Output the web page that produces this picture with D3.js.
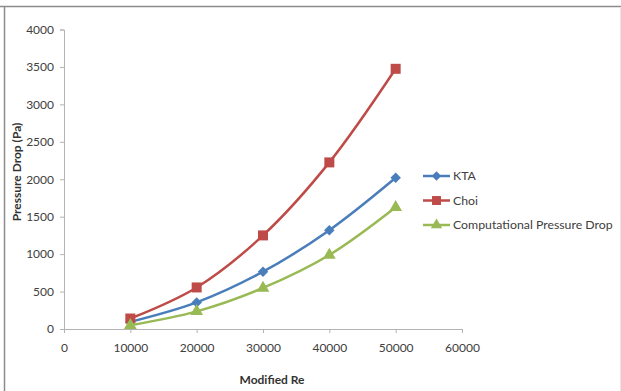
<!DOCTYPE html>
<html><head><meta charset="utf-8">
<script src="https://cdn.jsdelivr.net/npm/d3@7/dist/d3.min.js"></script>
<style>
html,body{margin:0;padding:0;background:#fff;}
svg{display:block;}
text{font-family:Lato,"Open Sans",sans-serif;}
</style></head>
<body>
<svg id="c" width="621" height="391"></svg>
<script>
const reValues = [10000, 20000, 30000, 40000, 50000];
const ktaValues = [95, 355, 765, 1320, 2020];
const choiValues = [140, 555, 1250, 2225, 3475];
const compValues = [50, 235, 548, 988, 1625];
const seriesNames = ["KTA", "Choi", "Computational Pressure Drop"];
const seriesColors = ["#4a7ebb", "#be4b48", "#98b954"];
const xTicks = [0, 10000, 20000, 30000, 40000, 50000, 60000];
const yTicks = [0, 500, 1000, 1500, 2000, 2500, 3000, 3500, 4000];

const squareDiamond = { draw(ctx, size) { const r = Math.sqrt(size / 2); ctx.moveTo(0, -r); ctx.lineTo(r, 0); ctx.lineTo(0, r); ctx.lineTo(-r, 0); ctx.closePath(); } };
const seriesSymbols = [squareDiamond, d3.symbolSquare, d3.symbolTriangle];

const svg = d3.select("#c");
// frame
svg.append("line").attr("x1",0).attr("x2",621).attr("y1",6.5).attr("y2",6.5).attr("stroke","#8c8c8c").attr("stroke-width",1.5);
svg.append("line").attr("x1",4.5).attr("x2",4.5).attr("y1",6).attr("y2",391).attr("stroke","#8c8c8c").attr("stroke-width",1.5);
svg.append("line").attr("x1",620.5).attr("x2",620.5).attr("y1",7).attr("y2",391).attr("stroke","#e6e6e6").attr("stroke-width",1);

const x = d3.scaleLinear().domain([0, 60000]).range([64, 462]);
const y = d3.scaleLinear().domain([0, 4000]).range([329, 29.5]);

const xAxis = svg.append("g").attr("transform", `translate(0,${y(0)})`)
  .call(d3.axisBottom(x).tickValues(xTicks).tickSize(4).tickPadding(10).tickFormat(d3.format("d")));
const yAxis = svg.append("g").attr("transform", `translate(${x(0)},0)`)
  .call(d3.axisLeft(y).tickValues(yTicks).tickSize(4).tickPadding(6).tickFormat(d3.format("d")));
[xAxis, yAxis].forEach(g => {
  g.select(".domain").attr("stroke", "#b3b3b3").attr("stroke-width", 1);
  g.selectAll(".tick line").attr("stroke", "#b3b3b3");
  g.selectAll(".tick text").attr("fill", "#404040").style("font-size", "12px").style("font-family", "Lato,'Open Sans',sans-serif");
});

svg.append("text").attr("x", 272).attr("y", 384).attr("text-anchor", "middle")
  .style("font-size", "12px").style("font-weight", "bold").attr("fill", "#333").text("Modified Re");
svg.append("text").attr("transform", "translate(21,172) rotate(-90)").attr("text-anchor", "middle")
  .style("font-size", "12px").style("font-weight", "bold").attr("fill", "#333").text("Pressure Drop (Pa)");

const allSeries = [ktaValues, choiValues, compValues];
const line = d3.line().curve(d3.curveCatmullRom.alpha(0.5)).x((d, i) => x(reValues[i])).y(d => y(d));
const symSizes = [55, 100, 70];

allSeries.forEach((vals, s) => {
  svg.append("path").datum(vals).attr("d", line).attr("fill", "none")
    .attr("stroke", seriesColors[s]).attr("stroke-width", 2.5).attr("stroke-linejoin", "round");
  svg.append("g").selectAll("path").data(vals).join("path")
    .attr("transform", (d, i) => `translate(${x(reValues[i])},${y(d)})`)
    .attr("d", d3.symbol().type(seriesSymbols[s]).size(symSizes[s]))
    .attr("fill", seriesColors[s]);
});

// legend
const legend = svg.append("g");
seriesNames.forEach((name, s) => {
  const ly = 176 + s * 24.5;
  legend.append("line").attr("x1", 423).attr("x2", 450).attr("y1", ly).attr("y2", ly)
    .attr("stroke", seriesColors[s]).attr("stroke-width", 2.5);
  legend.append("path").attr("transform", `translate(436.5,${ly})`)
    .attr("d", d3.symbol().type(seriesSymbols[s]).size(symSizes[s] * 0.8)).attr("fill", seriesColors[s]);
  legend.append("text").attr("x", 453).attr("y", ly + 4).style("font-size", "12.3px")
    .attr("fill", "#404040").text(name);
});
</script>
</body></html>
